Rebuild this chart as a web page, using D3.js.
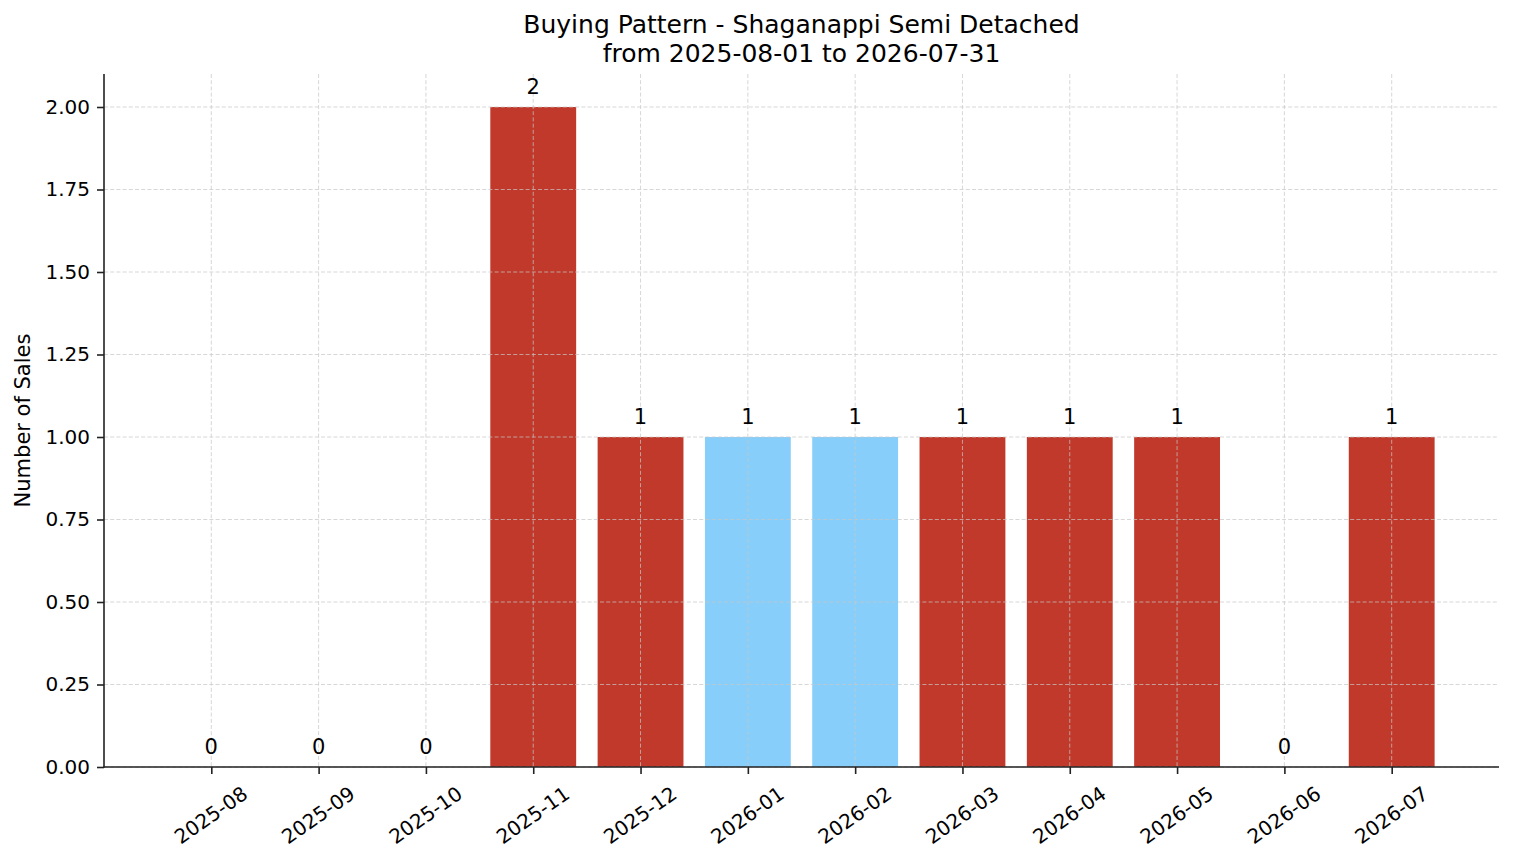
<!DOCTYPE html>
<html>
<head>
<meta charset="utf-8">
<script src="https://cdn.jsdelivr.net/npm/d3@7"></script>
<style>
  html, body { margin: 0; padding: 0; background: #fff; }
  svg { display: block; font-family: "DejaVu Sans", sans-serif; }
</style>
</head>
<body>
<svg id="chart" width="1514" height="863"></svg>
<script>
const months = ["2025-08","2025-09","2025-10","2025-11","2025-12","2026-01","2026-02","2026-03","2026-04","2026-05","2026-06","2026-07"];
const sales = [0,0,0,2,1,1,1,1,1,1,0,1];
const highlight = [false,false,false,false,false,true,true,false,false,false,false,false];
const yTicks = [0,0.25,0.5,0.75,1,1.25,1.5,1.75,2];
const titleLines = ["Buying Pattern - Shaganappi Semi Detached", "from 2025-08-01 to 2026-07-31"];
const yLabel = "Number of Sales";

const W = 1514, H = 863;
const m = {left: 104, right: 1499, top: 74, bottom: 767};
const svg = d3.select("#chart");

const x = d3.scaleLinear().domain([-1, months.length]).range([m.left, m.right]);
const y = d3.scaleLinear().domain([0, 2.1]).range([m.bottom, m.top]);
const bw = x(0.8) - x(0);

// bars
svg.append("g").selectAll("rect").data(sales).join("rect")
  .attr("x", (d, i) => x(i - 0.4))
  .attr("width", bw)
  .attr("y", d => y(d))
  .attr("height", d => y(0) - y(d))
  .attr("fill", (d, i) => highlight[i] ? "#87cefa" : "#c0392b");

// grid on top
const grid = svg.append("g").attr("stroke", "#c8c8c8").attr("stroke-width", 0.8)
  .attr("stroke-dasharray", "4,2.2").attr("opacity", 0.9);
grid.selectAll("line.h").data(yTicks).join("line").attr("class", "h")
  .attr("x1", m.left).attr("x2", m.right)
  .attr("y1", d => y(d)).attr("y2", d => y(d));
grid.selectAll("line.v").data(months).join("line").attr("class", "v")
  .attr("y1", m.top).attr("y2", m.bottom)
  .attr("x1", (d, i) => x(i)).attr("x2", (d, i) => x(i));

// y axis
const yAxis = svg.append("g").attr("transform", `translate(${m.left},0)`)
  .call(d3.axisLeft(y).tickValues(yTicks).tickFormat(d3.format(".2f")).tickSize(7).tickPadding(7));
yAxis.select(".domain").remove();
yAxis.selectAll(".tick line").attr("stroke", "#222").attr("stroke-width", 1.6);
yAxis.selectAll(".tick text").attr("font-size", 20).attr("fill", "#000")
  .attr("font-family", "DejaVu Sans");

// x axis
const xAxis = svg.append("g").attr("transform", `translate(0,${m.bottom})`)
  .call(d3.axisBottom(x).tickValues(d3.range(months.length)).tickFormat(i => months[i]).tickSize(7).tickPadding(7));
xAxis.select(".domain").remove();
xAxis.selectAll(".tick line").attr("stroke", "#222").attr("stroke-width", 1.6);
const ang = 35 * Math.PI / 180;
xAxis.selectAll(".tick text")
  .attr("font-size", 20).attr("fill", "#000").attr("font-family", "DejaVu Sans")
  .attr("text-anchor", "middle").attr("dy", null)
  .attr("dominant-baseline", "central")
  .each(function() {
    const L = this.getComputedTextLength();
    const h = 20 * 1.17;
    const bh = L * Math.sin(ang) + h * Math.cos(ang);
    const cy = 14 + bh / 2;
    d3.select(this).attr("x", -1).attr("y", 0).attr("transform", `translate(0,${cy}) rotate(-35)`);
  });

// spines
svg.append("line").attr("x1", m.left).attr("x2", m.left).attr("y1", m.top).attr("y2", m.bottom + 0.8)
  .attr("stroke", "#222").attr("stroke-width", 1.6);
svg.append("line").attr("x1", m.left - 0.8).attr("x2", m.right).attr("y1", m.bottom).attr("y2", m.bottom)
  .attr("stroke", "#222").attr("stroke-width", 1.6);

// value labels
svg.append("g").selectAll("text").data(sales).join("text")
  .attr("x", (d, i) => x(i))
  .attr("y", d => y(d) - 13)
  .attr("text-anchor", "middle")
  .attr("font-size", 21).attr("fill", "#000")
  .text(d => d);

// title
svg.append("g").selectAll("text").data(titleLines).join("text")
  .attr("x", (m.left + m.right) / 2)
  .attr("y", (d, i) => 33 + i * 28.5)
  .attr("text-anchor", "middle")
  .attr("font-size", 25).attr("fill", "#000")
  .text(d => d);

// y label
svg.append("text")
  .attr("transform", `translate(30,${(m.top + m.bottom) / 2}) rotate(-90)`)
  .attr("text-anchor", "middle")
  .attr("font-size", 21).attr("fill", "#000")
  .text(yLabel);
</script>
</body>
</html>
